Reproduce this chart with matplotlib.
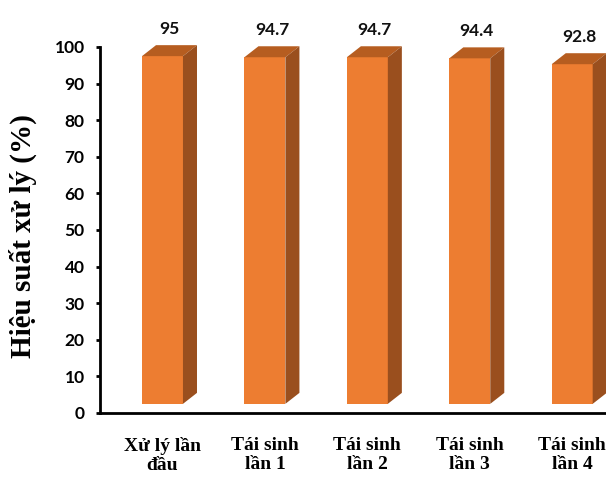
import matplotlib
matplotlib.use("Agg")
import matplotlib.pyplot as plt
from matplotlib.patches import Polygon, Rectangle

# du lieu hieu suat xu ly
categories = ["Xử lý lần\nđầu", "Tái sinh\nlần 1", "Tái sinh\nlần 2", "Tái sinh\nlần 3", "Tái sinh\nlần 4"]
values = [95, 94.7, 94.7, 94.4, 92.8]
yticks = [0, 10, 20, 30, 40, 50, 60, 70, 80, 90, 100]

front_color = "#ED7D31"
top_color = "#B65D20"
side_color = "#9A4F1E"

fig = plt.figure(figsize=(6.06, 4.8), dpi=100)
ax = fig.add_axes([0.165, 0.1396, 0.835, 0.7625])

w = 0.4        # be rong mat truoc cot
dx = 0.137     # do sau theo truc x
dy = 3.0       # do sau theo truc y
base = 2.5

for i, v in enumerate(values):
    x0 = i - w / 2
    x1 = i + w / 2
    top = base + v
    ax.add_patch(Rectangle((x0, base), w, v, facecolor=front_color, edgecolor="none", clip_on=False, zorder=3))
    ax.add_patch(Polygon([(x0, top), (x1, top), (x1 + dx, top + dy), (x0 + dx, top + dy)],
                         closed=True, facecolor=top_color, edgecolor="none", clip_on=False, zorder=3))
    ax.add_patch(Polygon([(x1, base), (x1 + dx, base + dy), (x1 + dx, top + dy), (x1, top)],
                         closed=True, facecolor=side_color, edgecolor="none", clip_on=False, zorder=3))
    ax.text(i + dx / 2, top + dy + 4.5, f"{v:g}", ha="center", va="center",
            fontsize=12.5, fontweight="bold", family="Lato", color="#111111")

ax.set_xlim(-0.61, 4.33)
ax.set_ylim(0, 100)
ax.set_yticks(yticks)
ax.set_yticklabels([str(t) for t in yticks], fontsize=12.5, fontweight="bold", family="Lato")
ax.tick_params(axis="y", direction="out", length=3, width=2, pad=8)
ax.set_xticks(range(len(categories)))
ax.set_xticklabels(categories, fontsize=14, fontweight="bold", family="Liberation Serif", linespacing=1.15)
ax.tick_params(axis="x", length=0, pad=17)

for side in ["top", "right"]:
    ax.spines[side].set_visible(False)
ax.spines["left"].set_linewidth(2)
ax.spines["bottom"].set_linewidth(2)

fig.text(0.038, 0.508, "Hiệu suất xử lý (%)", rotation=90, ha="center", va="center",
         fontsize=21, fontweight="bold", family="Liberation Serif")

fig.savefig("out.png", dpi=100)
